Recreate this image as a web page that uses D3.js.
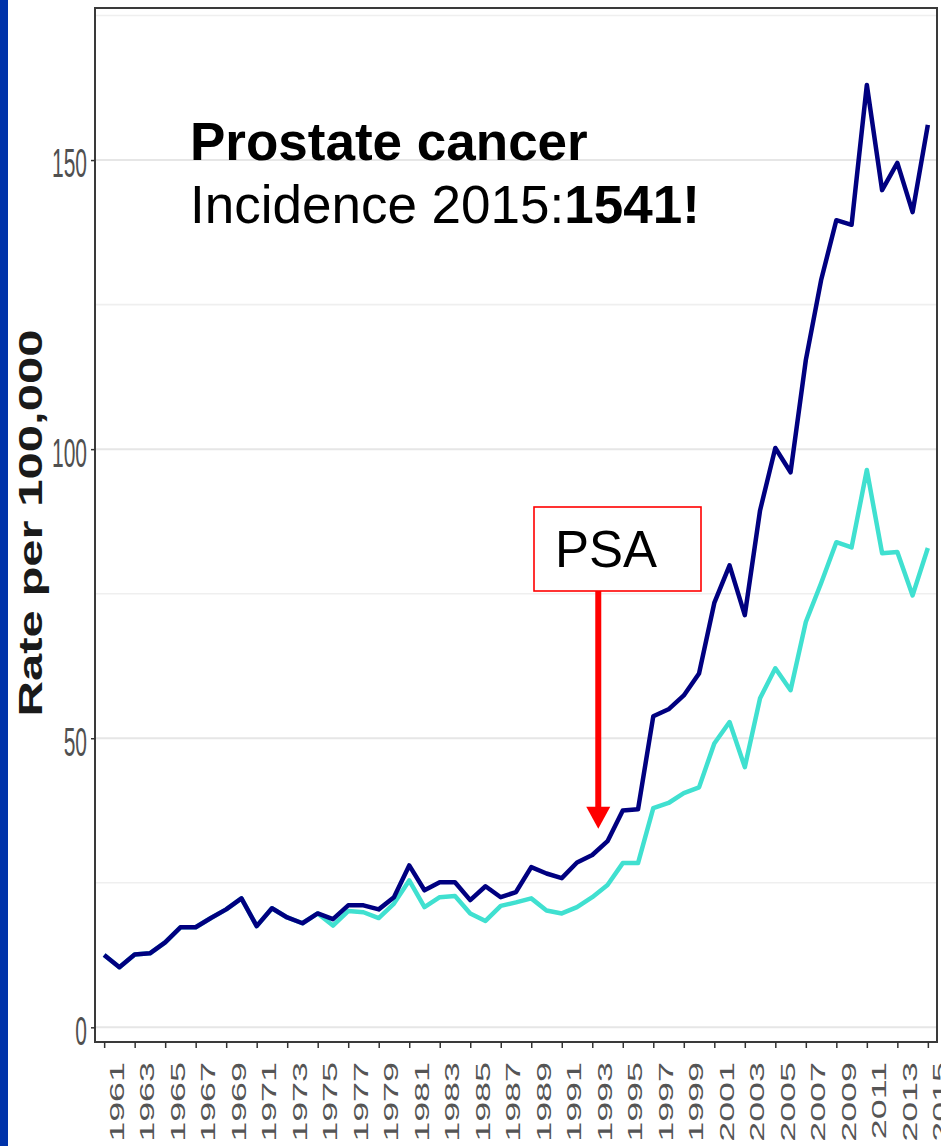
<!DOCTYPE html>
<html><head><meta charset="utf-8">
<script src="https://cdn.jsdelivr.net/npm/d3@7"></script>
<style>html,body{margin:0;padding:0;background:#fff;overflow:hidden}</style>
</head><body>
<svg id="chart" width="941" height="1146"></svg>
<script>
// ---------------- data ----------------
const years = [1961,1962,1963,1964,1965,1966,1967,1968,1969,1970,
  1971,1972,1973,1974,1975,1976,1977,1978,1979,1980,
  1981,1982,1983,1984,1985,1986,1987,1988,1989,1990,
  1991,1992,1993,1994,1995,1996,1997,1998,1999,2000,
  2001,2002,2003,2004,2005,2006,2007,2008,2009,2010,
  2011,2012,2013,2014,2015];
// crude incidence rate (navy)
const crudeRate = [12.5,10.4,12.6,12.8,14.7,17.3,17.3,18.9,20.4,22.3,
  17.5,20.6,19.0,18.0,19.7,18.7,21.1,21.1,20.4,22.5,
  28.0,23.7,25.1,25.1,22.0,24.4,22.5,23.4,27.7,26.6,
  25.8,28.5,29.8,32.2,37.5,37.7,53.8,55.0,57.4,61.2,
  73.4,79.9,71.3,89.4,100.2,96.0,115.4,129.2,139.6,138.8,
  163.0,144.8,149.5,141.0,156.1];
// age-standardised incidence rate (turquoise)
const ageStdRate = [12.5,10.4,12.6,12.8,14.7,17.3,17.3,18.9,20.4,22.3,
  17.5,20.6,19.0,18.0,19.7,17.6,20.1,19.9,18.9,21.4,
  25.4,20.8,22.5,22.7,19.7,18.4,21.0,21.6,22.3,20.2,
  19.7,20.8,22.5,24.6,28.4,28.4,37.9,38.8,40.5,41.5,
  49.1,52.8,45.0,56.9,62.1,58.3,70.1,76.8,83.9,83.0,
  96.4,82.0,82.2,74.7,82.9];
const xTickLabels = ["1961","1963","1965","1967","1969","1971","1973","1975","1977","1979",
  "1981","1983","1985","1987","1989","1991","1993","1995","1997","1999",
  "2001","2003","2005","2007","2009","2011","2013","2015"];
const yTicks = [0, 50, 100, 150];
const yMinorTicks = [25, 75, 125, 175];
const yLimits = [-2.54, 176.3];
const yTitle = "Rate per 100,000";
const titleLine1 = "Prostate cancer";
const titleLine2a = "Incidence 2015:";
const titleLine2b = "1541!";
const psaLabel = "PSA";
const psaYear = 1993;
const psaArrowTipValue = 34;

// ---------------- layout ----------------
const svg = d3.select("#chart");
const panel = {left: 95, right: 937, top: 8, bottom: 1042};

const x = d3.scalePoint().domain(years).range([panel.left, panel.right]).padding(0.6);
const y = d3.scaleLinear().domain(yLimits).range([panel.bottom, panel.top]);

svg.append("rect").attr("x",0).attr("y",0).attr("width",941).attr("height",1146).attr("fill","#fff");
// left blue band of the slide
svg.append("rect").attr("x",0).attr("y",0).attr("width",8).attr("height",1146).attr("fill","#0033AA");

// gridlines
svg.append("g").selectAll("line").data(yMinorTicks).join("line")
  .attr("x1", panel.left).attr("x2", panel.right)
  .attr("y1", d => y(d)).attr("y2", d => y(d))
  .attr("stroke", "#EFEFEF").attr("stroke-width", 1.6);
svg.append("g").selectAll("line").data(yTicks).join("line")
  .attr("x1", panel.left).attr("x2", panel.right)
  .attr("y1", d => y(d)).attr("y2", d => y(d))
  .attr("stroke", "#E6E6E6").attr("stroke-width", 2);

// lines
const line = d3.line().x((d, i) => x(years[i])).y(d => y(d));
svg.append("path").datum(ageStdRate).attr("d", line)
  .attr("fill","none").attr("stroke","#40E0D0").attr("stroke-width",4.5)
  .attr("stroke-linejoin","round").attr("stroke-linecap","butt");
svg.append("path").datum(crudeRate).attr("d", line)
  .attr("fill","none").attr("stroke","#000080").attr("stroke-width",4.5)
  .attr("stroke-linejoin","round").attr("stroke-linecap","butt");

// panel border
svg.append("rect").attr("x", panel.left).attr("y", panel.top)
  .attr("width", panel.right - panel.left).attr("height", panel.bottom - panel.top)
  .attr("fill","none").attr("stroke","#3a3a3a").attr("stroke-width",2);

// y axis
const gy = svg.append("g").attr("transform", `translate(${panel.left},0)`)
  .call(d3.axisLeft(y).tickValues(yTicks).tickSize(4).tickFormat(d3.format("d")));
gy.select(".domain").remove();
gy.selectAll(".tick line").attr("stroke","#333").attr("stroke-width",1.5);
gy.selectAll(".tick text")
  .attr("x", null).attr("dy", null).attr("y", 8.9)
  .attr("transform", "translate(-8,0) scale(1,1.9)")
  .attr("text-anchor","end")
  .attr("fill","#505050")
  .style("font-family","Liberation Sans, Arial, sans-serif")
  .style("font-size","21px");

// x axis
const labelYears = xTickLabels.map(Number);
const gx = svg.append("g").attr("transform", `translate(0,${panel.bottom})`)
  .call(d3.axisBottom(x).tickValues(labelYears).tickSize(6).tickFormat((d) => xTickLabels[labelYears.indexOf(d)]));
gx.select(".domain").remove();
gx.selectAll(".tick line").attr("stroke","#333").attr("stroke-width",1.5);
gx.selectAll(".tick text")
  .attr("x", 0).attr("y", 0).attr("dy", null)
  .attr("transform", "translate(19,20) scale(1,1.75) rotate(-90)")
  .attr("text-anchor","end")
  .attr("fill","#555")
  .style("font-family","Liberation Sans, Arial, sans-serif")
  .style("font-size","20.5px");

// y axis title
const yt = svg.append("text")
  .text(yTitle)
  .attr("text-anchor","middle")
  .attr("fill","#1a1a1a")
  .style("font-family","Liberation Sans, Arial, sans-serif")
  .style("font-weight","bold")
  .style("font-size","33px");
const ytLen = yt.node().getComputedTextLength();
const ytScale = 387 / ytLen;
yt.attr("transform", `translate(42,523) scale(1,${ytScale}) rotate(-90)`);

// title
const fontFam = "Liberation Sans, Arial, Helvetica, sans-serif";
svg.append("text").attr("x",190).attr("y",160)
  .style("font-family",fontFam).style("font-size","53px").style("font-weight","bold")
  .attr("fill","#000").text(titleLine1);
const t2 = svg.append("text").attr("x",190).attr("y",223)
  .style("font-family",fontFam).style("font-size","53px").attr("fill","#000");
t2.append("tspan").text(titleLine2a);
t2.append("tspan").style("font-weight","bold").text(titleLine2b);

// PSA annotation
const ax = x(psaYear) + 6;
const boxTop = 507, boxBottom = 591;
svg.append("rect").attr("x",534).attr("y",boxTop).attr("width",167).attr("height",boxBottom-boxTop)
  .attr("fill","#fff").attr("stroke","#FF0000").attr("stroke-width",1.6);
svg.append("text").attr("x",555).attr("y",567)
  .style("font-family",fontFam).style("font-size","51px").attr("fill","#000").text(psaLabel);
const tipY = y(psaArrowTipValue) - 2;
svg.append("line").attr("x1",ax).attr("x2",ax).attr("y1",boxBottom).attr("y2",tipY - 20)
  .attr("stroke","#FF0000").attr("stroke-width",6);
svg.append("path")
  .attr("d", `M${ax-12},${tipY-22} L${ax+12},${tipY-22} L${ax},${tipY} Z`)
  .attr("fill","#FF0000");
</script>
</body></html>
